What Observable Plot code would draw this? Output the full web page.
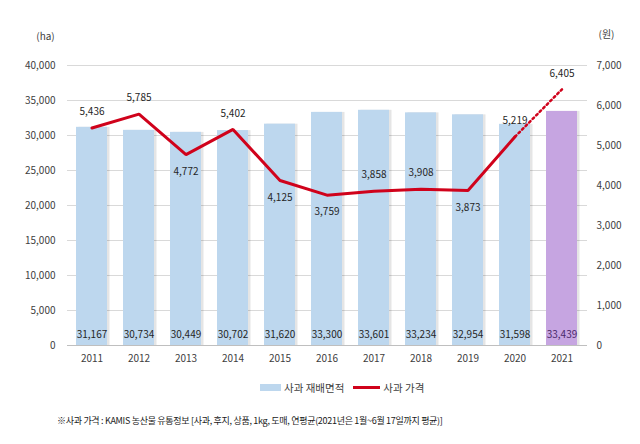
<!DOCTYPE html>
<html>
<head>
<meta charset="utf-8">
<script src="https://cdn.jsdelivr.net/npm/d3@7"></script>
<script src="https://cdn.jsdelivr.net/npm/@observablehq/plot@0.6"></script>
<style>
  body { margin: 0; background: #fff; font-family: "Noto Sans CJK KR", "Noto Sans", sans-serif; }
  #wrap { position: relative; width: 640px; height: 444px; }
  #legend { position: absolute; top: 380px; left: 260px; display: flex; align-items: center; font-size: 10.5px; color: #404040; white-space: nowrap; }
  .sw { display: inline-block; width: 21px; height: 7px; background: #BDD7EE; margin-right: 3px; }
  .ln { display: inline-block; width: 27px; height: 3px; background: #d0021b; margin-right: 3px; margin-left: 9px; }
  #caption { position: absolute; top: 414px; left: 57px; font-size: 9px; color: #1a1a1a; letter-spacing: -0.3px; white-space: nowrap; }
</style>
</head>
<body>
<div id="wrap">
  <div id="chart"></div>
  <div id="legend"><span class="sw"></span><span>사과 재배면적</span><span class="ln"></span><span>사과 가격</span></div>
  <div id="caption">※사과 가격 : KAMIS 농산물 유통정보 [사과, 후지, 상품, 1kg, 도매, 연평균(2021년은 1월~6월 17일까지 평균)]</div>
</div>
<script>
const years = [2011, 2012, 2013, 2014, 2015, 2016, 2017, 2018, 2019, 2020, 2021];
const area = [31167, 30734, 30449, 30702, 31620, 33300, 33601, 33234, 32954, 31598, 33439];
const price = [5436, 5785, 4772, 5402, 4125, 3759, 3858, 3908, 3873, 5219, 6405];
const leftTicks = [0, 5000, 10000, 15000, 20000, 25000, 30000, 35000, 40000];
const rightTicks = [0, 1000, 2000, 3000, 4000, 5000, 6000, 7000];

const k = 40000 / 7000; // right-axis (원) to left-axis (ha) scale factor
const fmt = d3.format(",");
const rows = years.map((y, i) => ({year: y, area: area[i], price: price[i]}));
const belowYears = new Set([2013, 2015, 2016, 2019]);
const blue = "#BDD7EE", purple = "#C6A5E1", red = "#d0021b";

const chart = Plot.plot({
  width: 640,
  height: 370,
  marginTop: 65,
  marginBottom: 25,
  marginLeft: 67,
  marginRight: 53,
  style: {fontFamily: '"Noto Sans CJK KR", "Noto Sans", sans-serif', fontSize: "10px", color: "#595959", background: "#fff"},
  x: {type: "band", domain: years, paddingInner: 0.34, paddingOuter: 0.17},
  y: {domain: [0, 40000]},
  color: {type: "identity"},
  marks: [
    Plot.ruleY(leftTicks.slice(1), {stroke: "#d9d9d9", strokeWidth: 1}),
    Plot.barY(rows, {x: "year", y: "area", fill: "#000", fillOpacity: 0.1, dx: 2.5}),
    Plot.barY(rows, {x: "year", y: "area", fill: d => d.year === 2021 ? purple : blue}),
    Plot.ruleY([0], {stroke: "#bfbfbf"}),
    Plot.axisX({tickSize: 0, tickPadding: 9, tickFormat: d => String(d), fill: "#404040", fontSize: 10, label: null}),
    Plot.axisY(leftTicks, {anchor: "left", tickSize: 0, tickPadding: 12, tickFormat: d => fmt(d), fill: "#404040", fontSize: 10, label: null}),
    Plot.axisY(rightTicks.map(v => v * k), {anchor: "right", tickSize: 0, tickPadding: 9, tickFormat: d => fmt(Math.round(d / k)), fill: "#404040", fontSize: 10, label: null}),
    Plot.text(["(ha)"], {frameAnchor: "top-left", dx: -22, dy: -33, fill: "#404040", fontSize: 10, textAnchor: "middle"}),
    Plot.text(["(원)"], {frameAnchor: "top-right", dx: 19, dy: -35, fill: "#404040", fontSize: 10, textAnchor: "middle"}),
    Plot.text(rows, {x: "year", y: 0, text: d => fmt(d.area), dy: -11, fill: d => d.year === 2021 ? "#4a2a6a" : "#262626", fontSize: 10}),
    Plot.line(rows.slice(0, 10), {x: "year", y: d => d.price * k, stroke: red, strokeWidth: 3, strokeLinejoin: "miter"}),
    Plot.line(rows.slice(9), {x: "year", y: d => d.price * k, stroke: red, strokeWidth: 2.5, strokeDasharray: "2,3"}),
    Plot.text(rows, {x: "year", y: d => d.price * k, text: d => fmt(d.price), fill: "#262626", fontSize: 10,
      filter: d => !belowYears.has(d.year), dy: -16}),
    Plot.text(rows, {x: "year", y: d => d.price * k, text: d => fmt(d.price), fill: "#262626", fontSize: 10,
      filter: d => belowYears.has(d.year), dy: 17})
  ]
});
document.getElementById("chart").appendChild(chart);
</script>
</body>
</html>
